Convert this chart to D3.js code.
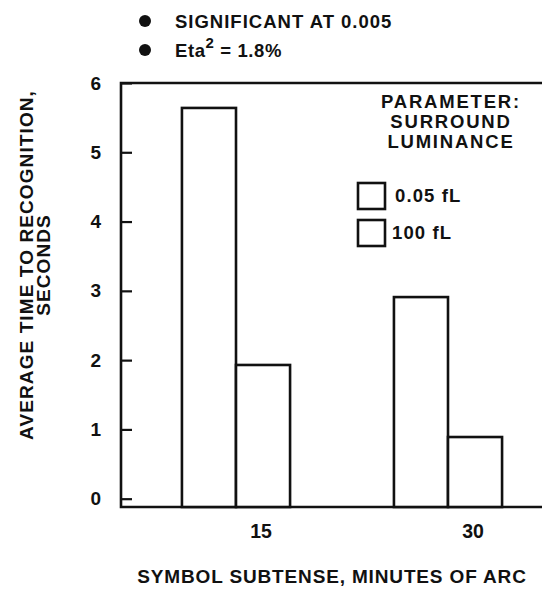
<!DOCTYPE html>
<html>
<head>
<meta charset="utf-8">
<script src="https://cdn.jsdelivr.net/npm/d3@7"></script>
<style>
  html, body { margin: 0; padding: 0; background: #fff; }
  svg { display: block; }
  text { font-family: "Liberation Sans", Arial, Helvetica, sans-serif; font-weight: bold; fill: #111; }
</style>
</head>
<body>
<div id="chart"></div>
<script>
// Symbol subtense (minutes of arc) on the x axis
const subtenses = [15, 30];
// Surround luminance levels
const luminances = ["0.05 fL", "100 fL"];
// Average time to recognition, seconds
const timeLow = [5.64, 2.91];   // 0.05 fL
const timeHigh = [1.93, 0.89];  // 100 fL
const yTicks = [0, 1, 2, 3, 4, 5, 6];
const notes = ["SIGNIFICANT AT 0.005", "Eta"];
const legendTitle = ["PARAMETER:", "SURROUND", "LUMINANCE"];

const rows = subtenses.map((s, i) => ({ s, values: [timeLow[i], timeHigh[i]] }));

const W = 542, H = 592;
const frameLeft = 121, frameRight = 542, frameTop = 83, frameBottom = 507;
const ink = "#111";

const svg = d3.select("#chart").append("svg").attr("width", W).attr("height", H);

const y = d3.scaleLinear().domain([-0.12, 6]).range([frameBottom, frameTop]);
const x0 = d3.scaleBand().domain(subtenses).range([130, 554]).paddingInner(0.49).paddingOuter(0.245);
const x1 = d3.scaleBand().domain(luminances).range([0, x0.bandwidth()]);

// frame: left, top and bottom rules
svg.append("path")
  .attr("d", `M${frameRight},${frameTop}H${frameLeft}V${frameBottom}H${frameRight}`)
  .attr("fill", "none").attr("stroke", ink).attr("stroke-width", 2.6);

// y axis: inward ticks with labels outside the frame
const yAxis = d3.axisLeft(y).tickValues(yTicks).tickSize(-11).tickPadding(20).tickFormat(d3.format("d"));
const ga = svg.append("g").attr("transform", `translate(${frameLeft},0)`).call(yAxis);
ga.select(".domain").remove();
ga.selectAll(".tick line").attr("stroke", ink).attr("stroke-width", 2.2);
ga.selectAll(".tick text").attr("font-size", 19).attr("fill", ink)
  .style("font-family", "'Liberation Sans', Arial, sans-serif").style("font-weight", "bold");

// bars
const groups = svg.selectAll("g.grp").data(rows).join("g").attr("class", "grp")
  .attr("transform", d => `translate(${x0(d.s)},0)`);
groups.selectAll("rect").data(d => d.values.map((v, k) => ({ v, lum: luminances[k] }))).join("rect")
  .attr("x", d => x1(d.lum))
  .attr("width", x1.bandwidth())
  .attr("y", d => y(d.v))
  .attr("height", d => y(-0.12) - y(d.v))
  .attr("fill", "#fff").attr("stroke", ink).attr("stroke-width", 2.6);

// x tick labels sit under the 100 fL bar of each group
svg.selectAll("text.xt").data(subtenses).join("text").attr("class", "xt")
  .attr("x", d => x0(d) + x1("100 fL") + x1.bandwidth() / 2 - 2)
  .attr("y", 538).attr("text-anchor", "middle").attr("font-size", 19.5)
  .text(d => d);

// axis titles
svg.append("text").attr("x", 332).attr("y", 583).attr("text-anchor", "middle")
  .attr("font-size", 19).attr("letter-spacing", 0.85)
  .text("SYMBOL SUBTENSE, MINUTES OF ARC");

const yt = svg.append("g").attr("transform", "translate(0,265) rotate(-90)");
yt.append("text").attr("x", 0).attr("y", 33).attr("text-anchor", "middle")
  .attr("font-size", 19).attr("letter-spacing", 1.1)
  .text("AVERAGE TIME TO RECOGNITION,");
yt.append("text").attr("x", 0).attr("y", 50).attr("text-anchor", "middle")
  .attr("font-size", 19).attr("letter-spacing", 1.1)
  .text("SECONDS");

// notes with bullets
const noteY = [28, 57];
svg.selectAll("circle.bul").data(noteY).join("circle").attr("class", "bul")
  .attr("cx", 145).attr("cy", d => d - 7).attr("r", 6).attr("fill", ink);
svg.append("text").attr("x", 175).attr("y", noteY[0]).attr("font-size", 18.5).attr("letter-spacing", 1.0)
  .text(notes[0]);
const eta = svg.append("text").attr("x", 175).attr("y", noteY[1]).attr("font-size", 18.5).attr("letter-spacing", 0.6);
eta.append("tspan").text(notes[1]);
eta.append("tspan").attr("dy", -9).attr("font-size", 15).text("2");
eta.append("tspan").attr("dy", 9).text(" = 1.8%");

// legend
svg.selectAll("text.lt").data(legendTitle).join("text").attr("class", "lt")
  .attr("x", 451).attr("y", (d, i) => 108 + i * 20).attr("text-anchor", "middle")
  .attr("font-size", 18.5).attr("letter-spacing", 1.8)
  .text(d => d);
const leg = svg.selectAll("g.leg").data(luminances).join("g").attr("class", "leg")
  .attr("transform", (d, i) => `translate(358,${183 + i * 37})`);
leg.append("rect").attr("width", 27).attr("height", 26)
  .attr("fill", "#fff").attr("stroke", ink).attr("stroke-width", 2.6);
leg.append("text").attr("x", (d, i) => i === 0 ? 37 : 34).attr("y", 19)
  .attr("font-size", 18.5).attr("letter-spacing", 1.1)
  .text(d => d);
</script>
</body>
</html>
